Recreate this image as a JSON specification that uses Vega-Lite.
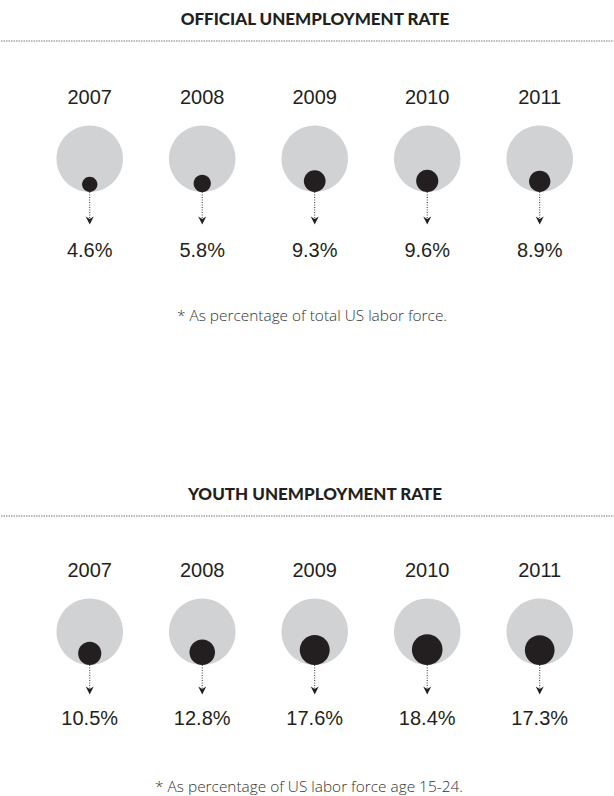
{
  "$schema": "https://vega.github.io/schema/vega-lite/v6.json",
  "background": "white",
  "padding": {"top": 10, "left": 0, "right": 0, "bottom": 0},
  "spacing": 154,
  "config": {
    "view": {"stroke": null},
    "title": {"font": "Lato, sans-serif", "fontWeight": 900, "fontSize": 17, "color": "#231f20", "anchor": "middle", "frame": "group", "offset": 12, "dx": 7}
  },
  "vconcat": [
    {
      "title": {"text": "OFFICIAL UNEMPLOYMENT RATE"},
      "width": 614,
      "height": 290,
      "data": {"values": [
        {"year": "2007", "rate": 4.6},
        {"year": "2008", "rate": 5.8},
        {"year": "2009", "rate": 9.3},
        {"year": "2010", "rate": 9.6},
        {"year": "2011", "rate": 8.9}
      ]},
      "transform": [{"calculate": "format(datum.rate, '.1f') + '%'", "as": "label"}],
      "layer": [
        {
          "data": {"values": [{"line": 0}]},
          "mark": {"type": "rule", "stroke": "#777", "strokeDash": [1.5, 1], "strokeWidth": 1},
          "encoding": {"y": {"datum": 0, "scale": {"domain": [0, 290], "reverse": true, "nice": false, "zero": false}, "axis": null}}
        },
        {
          "mark": {"type": "text", "font": "Liberation Sans, Arial, sans-serif", "fontSize": 20, "baseline": "middle", "color": "#231f20"},
          "encoding": {
            "x": {"field": "year", "type": "ordinal", "scale": {"type": "point", "padding": 0.729, "align": 0.541}, "axis": null},
            "y": {"datum": 57},
            "text": {"field": "year"}
          }
        },
        {
          "mark": {"type": "point", "shape": "M1,-1A1,1,0,1,1,-1,-1A1,1,0,1,1,1,-1Z", "filled": true, "color": "#d1d2d4", "opacity": 1, "size": 4422},
          "encoding": {"x": {"field": "year", "type": "ordinal"}, "y": {"datum": 151}}
        },
        {
          "mark": {"type": "point", "shape": "M1,-1A1,1,0,1,1,-1,-1A1,1,0,1,1,1,-1Z", "filled": true, "color": "#231f20", "opacity": 1},
          "encoding": {
            "x": {"field": "year", "type": "ordinal"},
            "y": {"datum": 151},
            "size": {"field": "rate", "type": "quantitative", "scale": {"domain": [0, 20], "range": [0, 1020]}, "legend": null}
          }
        },
        {
          "mark": {"type": "rule", "stroke": "#333", "strokeDash": [1, 1.5], "strokeWidth": 1},
          "encoding": {"x": {"field": "year", "type": "ordinal"}, "y": {"datum": 151}, "y2": {"datum": 179}}
        },
        {
          "mark": {"type": "point", "shape": "M0,0L-1,-2L0,-1.4L1,-2Z", "filled": true, "color": "#231f20", "opacity": 1, "size": 64},
          "encoding": {"x": {"field": "year", "type": "ordinal"}, "y": {"datum": 183.5}}
        },
        {
          "mark": {"type": "text", "font": "Liberation Sans, Arial, sans-serif", "fontSize": 20, "baseline": "middle", "color": "#231f20"},
          "encoding": {"x": {"field": "year", "type": "ordinal"}, "y": {"datum": 210}, "text": {"field": "label"}}
        },
        {
          "data": {"values": [{"note": "* As percentage of total US labor force."}]},
          "mark": {"type": "text", "font": "Open Sans, sans-serif", "fontWeight": 300, "fontSize": 15.4, "baseline": "middle", "color": "#333", "dx": 4},
          "encoding": {"y": {"datum": 275}, "text": {"field": "note"}}
        }
      ]
    },
    {
      "title": {"text": "YOUTH UNEMPLOYMENT RATE"},
      "width": 614,
      "height": 281,
      "data": {"values": [
        {"year": "2007", "rate": 10.5},
        {"year": "2008", "rate": 12.8},
        {"year": "2009", "rate": 17.6},
        {"year": "2010", "rate": 18.4},
        {"year": "2011", "rate": 17.3}
      ]},
      "transform": [{"calculate": "format(datum.rate, '.1f') + '%'", "as": "label"}],
      "layer": [
        {
          "data": {"values": [{"line": 0}]},
          "mark": {"type": "rule", "stroke": "#777", "strokeDash": [1.5, 1], "strokeWidth": 1},
          "encoding": {"y": {"datum": 0, "scale": {"domain": [0, 281], "reverse": true, "nice": false, "zero": false}, "axis": null}}
        },
        {
          "mark": {"type": "text", "font": "Liberation Sans, Arial, sans-serif", "fontSize": 20, "baseline": "middle", "color": "#231f20"},
          "encoding": {
            "x": {"field": "year", "type": "ordinal", "scale": {"type": "point", "padding": 0.729, "align": 0.541}, "axis": null},
            "y": {"datum": 55},
            "text": {"field": "year"}
          }
        },
        {
          "mark": {"type": "point", "shape": "M1,-1A1,1,0,1,1,-1,-1A1,1,0,1,1,1,-1Z", "filled": true, "color": "#d1d2d4", "opacity": 1, "size": 4422},
          "encoding": {"x": {"field": "year", "type": "ordinal"}, "y": {"datum": 149}}
        },
        {
          "mark": {"type": "point", "shape": "M1,-1A1,1,0,1,1,-1,-1A1,1,0,1,1,1,-1Z", "filled": true, "color": "#231f20", "opacity": 1},
          "encoding": {
            "x": {"field": "year", "type": "ordinal"},
            "y": {"datum": 149},
            "size": {"field": "rate", "type": "quantitative", "scale": {"domain": [0, 20], "range": [0, 1020]}, "legend": null}
          }
        },
        {
          "mark": {"type": "rule", "stroke": "#333", "strokeDash": [1, 1.5], "strokeWidth": 1},
          "encoding": {"x": {"field": "year", "type": "ordinal"}, "y": {"datum": 149}, "y2": {"datum": 174}}
        },
        {
          "mark": {"type": "point", "shape": "M0,0L-1,-2L0,-1.4L1,-2Z", "filled": true, "color": "#231f20", "opacity": 1, "size": 64},
          "encoding": {"x": {"field": "year", "type": "ordinal"}, "y": {"datum": 178.5}}
        },
        {
          "mark": {"type": "text", "font": "Liberation Sans, Arial, sans-serif", "fontSize": 20, "baseline": "middle", "color": "#231f20"},
          "encoding": {"x": {"field": "year", "type": "ordinal"}, "y": {"datum": 202.5}, "text": {"field": "label"}}
        },
        {
          "data": {"values": [{"note": "* As percentage of US labor force age 15-24."}]},
          "mark": {"type": "text", "font": "Open Sans, sans-serif", "fontWeight": 300, "fontSize": 15.4, "baseline": "middle", "color": "#333", "dx": 1},
          "encoding": {"y": {"datum": 270.5}, "text": {"field": "note"}}
        }
      ]
    }
  ]
}
